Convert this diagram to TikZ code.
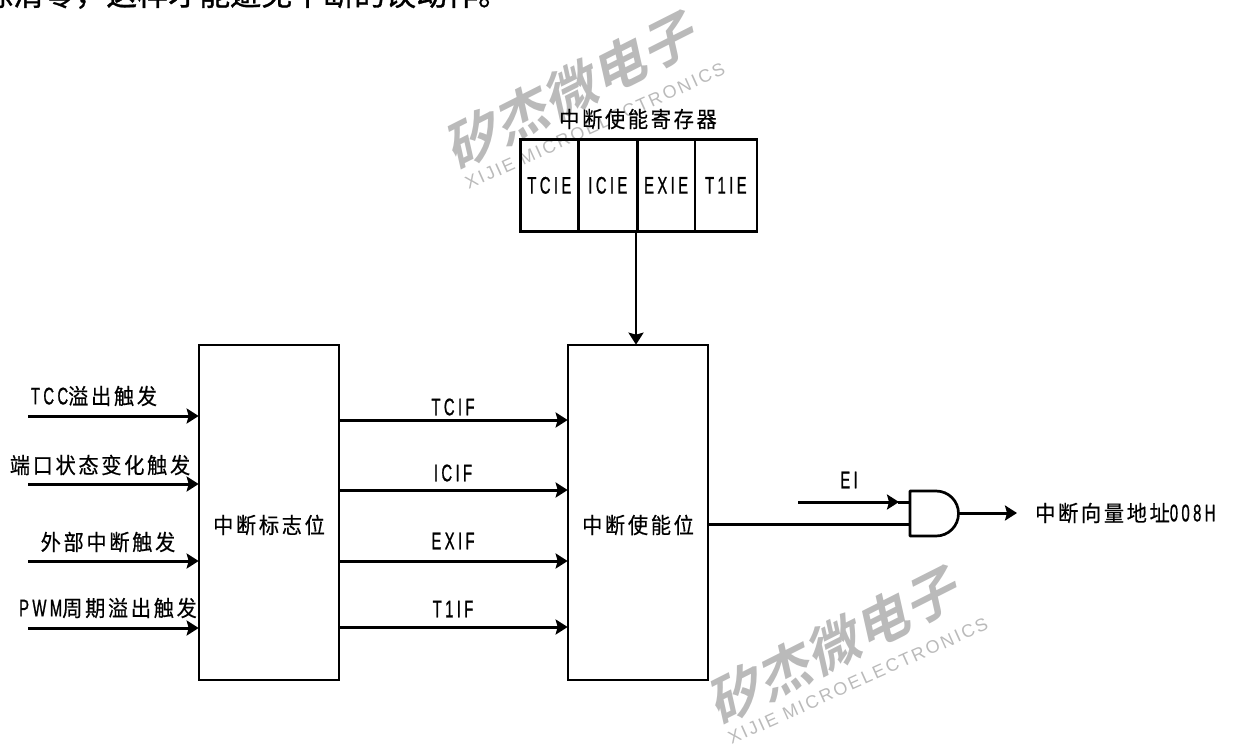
\documentclass[tikz,border=0pt]{standalone}
\usepackage{fontspec}
\usetikzlibrary{arrows.meta, positioning}
\setmainfont{Liberation Sans}
\newfontfamily\cjkfont[LetterSpace=12,FakeStretch=0.92,FakeBold=0.4]{Noto Sans CJK SC}
\newfontfamily\latfont[LetterSpace=14,FakeStretch=0.62,FakeBold=0.8]{Liberation Sans}
\newfontfamily\topfont[FakeBold=1]{Noto Sans CJK SC}
\newfontfamily\wmfont[LetterSpace=2]{Noto Sans CJK SC Bold}
\newfontfamily\wmlatfont[LetterSpace=13]{Liberation Sans}
\newcommand{\lat}[1]{{\fontsize{24}{24}\latfont #1}}
\definecolor{wmgray}{RGB}{186,186,186}
\tikzset{
    block/.style={draw, line width=2.7pt, minimum width=140pt, minimum height=335pt},
    blocklabel/.style={font=\fontsize{22}{22}\cjkfont, inner sep=0pt},
    regcell/.style={draw, line width=2.7pt, minimum height=92pt, inner sep=0pt, font=\fontsize{24}{24}\latfont},
    sig/.style={line width=3pt, -{Stealth[length=12pt,width=15pt,inset=2pt]}, shorten >=-1pt},
    siglabel/.style={font=\fontsize{22}{22}\cjkfont, inner sep=0pt},
    flaglabel/.style={font=\fontsize{24}{24}\latfont, inner sep=0pt},
    wmbig/.style={text=wmgray, cm={0.89,0.45,-0.22,0.98,(0,0)}, font=\fontsize{54}{54}\wmfont, inner sep=0pt},
    wmsmall/.style={text=wmgray, rotate=24.3, font=\fontsize{18}{18}\wmlatfont, inner sep=0pt}
}
\begin{document}
\begin{tikzpicture}[x=1pt, y=-1pt]
    \useasboundingbox (0,0) rectangle (1233,744);
    \clip (0,0) rectangle (1233,744);
    % watermarks
    \node[wmbig] (wma) at (573,89) {矽杰微电子};
    \node[wmsmall] (wmb) at (595,126) {XIJIE MICROELECTRONICS};
    \node[wmbig] (wmc) at (836,644) {矽杰微电子};
    \node[wmsmall] (wmd) at (858,681) {XIJIE MICROELECTRONICS};
    % cut off line of text
    \node[anchor=base west, inner sep=0pt, font=\fontsize{31}{31}\topfont] (topline) at (-18,5.5) {除清零，这样才能避免中断的误动作。};
    % blocks
    \node[block] (flag) at (269,512.5) {};
    \node[block] (enable) at (638,512.5) {};
    \node[blocklabel] (flagname) at (269,525) {中断标志位};
    \node[blocklabel] (enablename) at (638,525) {中断使能位};
    % register
    \node[regcell, minimum width=58pt, anchor=north west] (tcie) at (519,138) {TCIE};
    \node[regcell, minimum width=59pt, right=-2.7pt of tcie] (icie) {ICIE};
    \node[regcell, minimum width=57.5pt, right=-2.7pt of icie] (exie) {EXIE};
    \node[regcell, minimum width=62pt, right=-2.7pt of exie] (tlie) {T1IE};
    \node[blocklabel] (regname) at (638,119) {中断使能寄存器};
    \draw[sig, line width=2.6pt] (exie.south west) -- (enable.north -| exie.south west);
    % inputs
    \foreach \y/\ly/\name/\txt/\tx in {416/396/ina/{\lat{TCC}溢出触发}/94, 484/465/inb/{端口状态变化触发}/100, 561/542/inc/{外部中断触发}/108, 628/608/ind/{\lat{PWM}周期溢出触发}/108} {
        \coordinate (\name) at (28,\y);
        \draw[sig] (\name) -- (\name -| flag.west);
        \node[siglabel] at (\tx,\ly) {\txt};
    }
    % flags
    \foreach \y/\ly/\name/\txt in {420/407/tcif/TCIF, 490/473/icif/ICIF, 561/541/exif/EXIF, 627/609/tlif/T1IF} {
        \coordinate (\name) at (339,\y);
        \draw[sig] (\name) -- (\name -| enable.west);
        \node[flaglabel] at (453,\ly) {\txt};
    }
    % gate
    \coordinate (gateina) at (910,502);
    \coordinate (gateinb) at (910,524);
    \coordinate (gateout) at (958,513);
    \coordinate (eistart) at (798,502);
    \coordinate (enout) at (708,524);
    \coordinate (vec) at (1016,513);
    \draw[line width=2.7pt, line join=round] (910,491) -- (936,491) .. controls (948.5,491) and (958.5,501) .. (958.5,513.5) .. controls (958.5,526) and (948.5,536) .. (936,536) -- (910,536) -- cycle;
    \draw[line width=3pt] (898,502) -- (gateina);
    \draw[sig] (eistart) -- (898,502);
    \node[flaglabel] (ei) at (849,480) {EI};
    \draw[line width=3pt] (enout) -- (gateinb);
    \draw[sig] (gateout) -- (vec);
    \node[siglabel, anchor=west] (vector) at (1035,513) {中断向量地址\lat{008H}};
\end{tikzpicture}
\end{document}
